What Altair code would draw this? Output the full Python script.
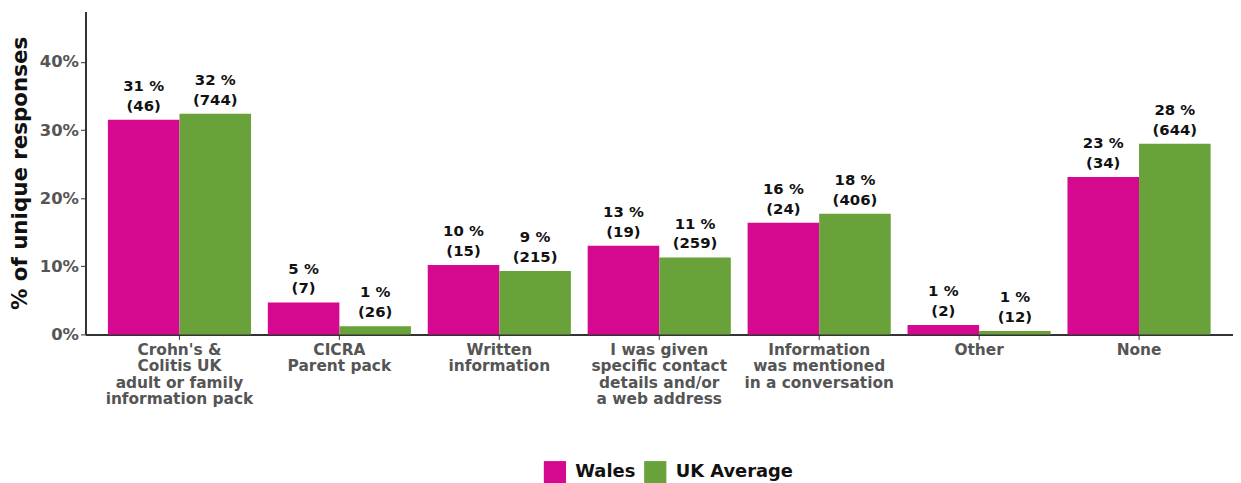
import altair as alt
import pandas as pd

categories = [
    "Crohn's &|Colitis UK|adult or family|information pack",
    "CICRA|Parent pack",
    "Written|information",
    "I was given|specific contact|details and/or|a web address",
    "Information|was mentioned|in a conversation",
    "Other",
    "None",
]
series = ["Wales", "UK Average"]
wales_values = [31.5, 4.7, 10.2, 13.0, 16.4, 1.4, 23.1]
uk_values = [32.4, 1.2, 9.3, 11.3, 17.7, 0.5, 28.0]
wales_pct_labels = ["31 %", "5 %", "10 %", "13 %", "16 %", "1 %", "23 %"]
uk_pct_labels = ["32 %", "1 %", "9 %", "11 %", "18 %", "1 %", "28 %"]
wales_counts = [46, 7, 15, 19, 24, 2, 34]
uk_counts = [744, 26, 215, 259, 406, 12, 644]
colors = ["#D4098F", "#69A23A"]

rows = []
for i, c in enumerate(categories):
    rows.append({"cat": c, "series": "Wales", "value": wales_values[i],
                 "label": f"{wales_pct_labels[i]}\n({wales_counts[i]})"})
    rows.append({"cat": c, "series": "UK Average", "value": uk_values[i],
                 "label": f"{uk_pct_labels[i]}\n({uk_counts[i]})"})
df = pd.DataFrame(rows)

FONT = "DejaVu Sans"

x = alt.X("cat:N", sort=categories, title=None,
          scale=alt.Scale(paddingInner=0.105, paddingOuter=0.14),
          axis=alt.Axis(labelExpr="split(datum.label, '|')", labelAngle=0,
                        labelFont=FONT, labelFontWeight="bold", labelFontSize=15.5,
                        labelColor="#555555", labelLineHeight=16.5, labelPadding=3,
                        domainColor="#333333", domainWidth=2, tickColor="#333333",
                        tickSize=5, labelBaseline="top"))
xo = alt.XOffset("series:N", sort=series)
y = alt.Y("value:Q", title="% of unique responses",
          scale=alt.Scale(domain=[0, 47.4], nice=False, zero=True),
          axis=alt.Axis(values=[0, 10, 20, 30, 40], labelExpr="datum.value + '%'",
                        grid=False, labelFont=FONT, labelFontWeight="bold",
                        labelFontSize=16.5, labelColor="#555555",
                        titleFont=FONT, titleFontWeight="bold", titleFontSize=21.5,
                        titleColor="#111111", titlePadding=8,
                        domainColor="#333333", domainWidth=2,
                        tickColor="#333333", tickSize=5))

bars = alt.Chart(df).mark_bar().encode(
    x=x, xOffset=xo, y=y,
    color=alt.Color("series:N", sort=series,
                    scale=alt.Scale(domain=series, range=colors),
                    legend=alt.Legend(title=None, orient="none", direction="horizontal",
                                      legendX=461, legendY=452,
                                      symbolType="square",
                                      symbolSize=500, symbolStrokeWidth=0,
                                      labelFont=FONT, labelFontWeight="bold",
                                      labelFontSize=18, labelColor="#111111",
                                      labelOffset=9, columnPadding=8)),
)

text = alt.Chart(df).mark_text(
    baseline="bottom", dy=-26, font=FONT, fontWeight="bold", fontSize=15,
    color="#111111", lineBreak="\n", lineHeight=20,
).encode(x=x, xOffset=xo, y="value:Q", text="label:N")

chart = (bars + text).properties(
    width=1155, height=325, padding={"left": 1, "top": 2, "right": 0, "bottom": 0}
).configure_view(stroke=None)

chart.save("out.html", embed_options={"renderer": "svg", "actions": False})
